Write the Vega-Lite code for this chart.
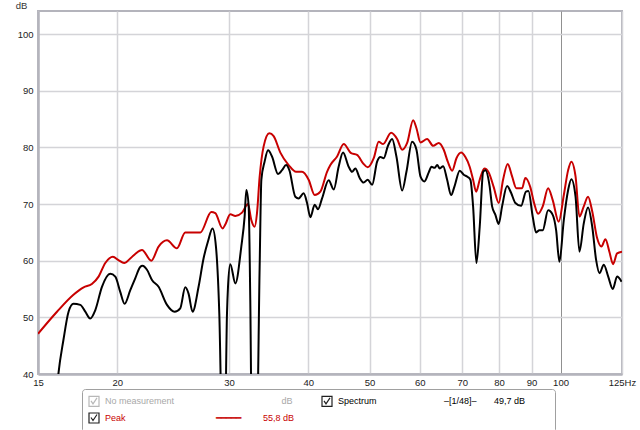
{
  "$schema": "https://vega.github.io/schema/vega-lite/v6.json",
  "width": 584,
  "height": 363,
  "autosize": {"type": "none"},
  "padding": {"left": 38, "top": 11, "right": 18, "bottom": 56},
  "background": "#ffffff",
  "config": {
    "view": {"stroke": "#b4b4bc", "strokeWidth": 2},
    "font": "Liberation Sans",
    "axis": {"labelFont": "Liberation Sans", "labelFontSize": 9.5, "labelColor": "#222222", "ticks": false, "tickSize": 0, "domainColor": "#b4b4bc", "domainWidth": 2.5, "gridWidth": 1.5}
  },
  "data": {
    "values": [
      {"series": "Peak", "f": 15, "dB": 47.1},
      {"series": "Peak", "f": 16.07, "dB": 51.0},
      {"series": "Peak", "f": 17.06, "dB": 54.0},
      {"series": "Peak", "f": 17.7, "dB": 55.3},
      {"series": "Peak", "f": 18.24, "dB": 55.9},
      {"series": "Peak", "f": 18.69, "dB": 57.2},
      {"series": "Peak", "f": 19.15, "dB": 59.6},
      {"series": "Peak", "f": 19.69, "dB": 60.7},
      {"series": "Peak", "f": 20.09, "dB": 60.1},
      {"series": "Peak", "f": 20.51, "dB": 59.6},
      {"series": "Peak", "f": 20.97, "dB": 60.4},
      {"series": "Peak", "f": 21.35, "dB": 61.2},
      {"series": "Peak", "f": 21.88, "dB": 61.9},
      {"series": "Peak", "f": 22.63, "dB": 60.0},
      {"series": "Peak", "f": 23.24, "dB": 62.5},
      {"series": "Peak", "f": 23.96, "dB": 63.6},
      {"series": "Peak", "f": 24.84, "dB": 62.2},
      {"series": "Peak", "f": 25.6, "dB": 65.0},
      {"series": "Peak", "f": 27.04, "dB": 65.0},
      {"series": "Peak", "f": 28.14, "dB": 68.6},
      {"series": "Peak", "f": 28.55, "dB": 68.4},
      {"series": "Peak", "f": 29.32, "dB": 65.7},
      {"series": "Peak", "f": 29.61, "dB": 66.4},
      {"series": "Peak", "f": 30.15, "dB": 68.2},
      {"series": "Peak", "f": 30.71, "dB": 67.9},
      {"series": "Peak", "f": 31.46, "dB": 68.5},
      {"series": "Peak", "f": 32.15, "dB": 70.0},
      {"series": "Peak", "f": 32.54, "dB": 67.2},
      {"series": "Peak", "f": 32.93, "dB": 66.0},
      {"series": "Peak", "f": 33.22, "dB": 68.4},
      {"series": "Peak", "f": 33.54, "dB": 74.8},
      {"series": "Peak", "f": 34.03, "dB": 80.2},
      {"series": "Peak", "f": 34.74, "dB": 82.5},
      {"series": "Peak", "f": 35.29, "dB": 82.0},
      {"series": "Peak", "f": 36.16, "dB": 79.1},
      {"series": "Peak", "f": 37.26, "dB": 76.9},
      {"series": "Peak", "f": 38.28, "dB": 75.7},
      {"series": "Peak", "f": 39.12, "dB": 75.7},
      {"series": "Peak", "f": 40.07, "dB": 74.3},
      {"series": "Peak", "f": 40.96, "dB": 71.6},
      {"series": "Peak", "f": 41.81, "dB": 72.2},
      {"series": "Peak", "f": 42.84, "dB": 75.7},
      {"series": "Peak", "f": 43.36, "dB": 76.9},
      {"series": "Peak", "f": 44.43, "dB": 78.4},
      {"series": "Peak", "f": 45.51, "dB": 80.6},
      {"series": "Peak", "f": 46.75, "dB": 79.0},
      {"series": "Peak", "f": 47.77, "dB": 78.7},
      {"series": "Peak", "f": 48.83, "dB": 77.2},
      {"series": "Peak", "f": 49.65, "dB": 76.5},
      {"series": "Peak", "f": 50.75, "dB": 78.1},
      {"series": "Peak", "f": 51.68, "dB": 81.0},
      {"series": "Peak", "f": 52.51, "dB": 80.6},
      {"series": "Peak", "f": 54.06, "dB": 82.6},
      {"series": "Peak", "f": 55.25, "dB": 81.5},
      {"series": "Peak", "f": 56.27, "dB": 79.6},
      {"series": "Peak", "f": 57.3, "dB": 80.8},
      {"series": "Peak", "f": 58.56, "dB": 84.8},
      {"series": "Peak", "f": 59.27, "dB": 83.4},
      {"series": "Peak", "f": 60.13, "dB": 80.9},
      {"series": "Peak", "f": 61.61, "dB": 81.5},
      {"series": "Peak", "f": 62.97, "dB": 80.3},
      {"series": "Peak", "f": 64.27, "dB": 80.8},
      {"series": "Peak", "f": 65.44, "dB": 79.6},
      {"series": "Peak", "f": 66.4, "dB": 77.5},
      {"series": "Peak", "f": 67.47, "dB": 75.9},
      {"series": "Peak", "f": 68.53, "dB": 78.1},
      {"series": "Peak", "f": 69.71, "dB": 79.1},
      {"series": "Peak", "f": 70.79, "dB": 78.3},
      {"series": "Peak", "f": 71.9, "dB": 76.6},
      {"series": "Peak", "f": 72.8, "dB": 74.3},
      {"series": "Peak", "f": 73.6, "dB": 72.2},
      {"series": "Peak", "f": 74.57, "dB": 74.3},
      {"series": "Peak", "f": 75.85, "dB": 76.3},
      {"series": "Peak", "f": 77.04, "dB": 75.6},
      {"series": "Peak", "f": 78.46, "dB": 73.0},
      {"series": "Peak", "f": 79.89, "dB": 70.2},
      {"series": "Peak", "f": 81.17, "dB": 74.3},
      {"series": "Peak", "f": 82.54, "dB": 77.1},
      {"series": "Peak", "f": 83.87, "dB": 74.9},
      {"series": "Peak", "f": 85.19, "dB": 72.8},
      {"series": "Peak", "f": 86.97, "dB": 72.8},
      {"series": "Peak", "f": 88.0, "dB": 74.6},
      {"series": "Peak", "f": 89.6, "dB": 73.0},
      {"series": "Peak", "f": 90.8, "dB": 70.3},
      {"series": "Peak", "f": 92.19, "dB": 68.3},
      {"series": "Peak", "f": 93.74, "dB": 69.6},
      {"series": "Peak", "f": 95.59, "dB": 72.8},
      {"series": "Peak", "f": 97.2, "dB": 70.7},
      {"series": "Peak", "f": 99.34, "dB": 66.9},
      {"series": "Peak", "f": 101.2, "dB": 71.6},
      {"series": "Peak", "f": 102.8, "dB": 76.0},
      {"series": "Peak", "f": 104.0, "dB": 77.5},
      {"series": "Peak", "f": 105.6, "dB": 74.9},
      {"series": "Peak", "f": 107.1, "dB": 67.8},
      {"series": "Peak", "f": 108.8, "dB": 69.6},
      {"series": "Peak", "f": 110.5, "dB": 71.3},
      {"series": "Peak", "f": 112.2, "dB": 68.7},
      {"series": "Peak", "f": 114.2, "dB": 64.0},
      {"series": "Peak", "f": 116.0, "dB": 62.5},
      {"series": "Peak", "f": 117.7, "dB": 63.8},
      {"series": "Peak", "f": 119.4, "dB": 61.6},
      {"series": "Peak", "f": 121.0, "dB": 59.4},
      {"series": "Peak", "f": 122.8, "dB": 61.3},
      {"series": "Peak", "f": 125, "dB": 61.6},
      {"series": "Spectrum", "f": 16.0, "dB": 35},
      {"series": "Spectrum", "f": 16.16, "dB": 40.2},
      {"series": "Spectrum", "f": 16.45, "dB": 46.0},
      {"series": "Spectrum", "f": 16.76, "dB": 51.0},
      {"series": "Spectrum", "f": 17.06, "dB": 52.4},
      {"series": "Spectrum", "f": 17.49, "dB": 52.2},
      {"series": "Spectrum", "f": 17.81, "dB": 51.0},
      {"series": "Spectrum", "f": 18.13, "dB": 49.8},
      {"series": "Spectrum", "f": 18.47, "dB": 51.3},
      {"series": "Spectrum", "f": 18.92, "dB": 55.4},
      {"series": "Spectrum", "f": 19.5, "dB": 57.7},
      {"series": "Spectrum", "f": 19.86, "dB": 57.2},
      {"series": "Spectrum", "f": 20.22, "dB": 54.5},
      {"series": "Spectrum", "f": 20.54, "dB": 52.4},
      {"series": "Spectrum", "f": 20.97, "dB": 54.8},
      {"series": "Spectrum", "f": 21.35, "dB": 56.9},
      {"series": "Spectrum", "f": 21.74, "dB": 58.9},
      {"series": "Spectrum", "f": 21.92, "dB": 59.1},
      {"series": "Spectrum", "f": 22.28, "dB": 58.4},
      {"series": "Spectrum", "f": 22.69, "dB": 56.6},
      {"series": "Spectrum", "f": 23.24, "dB": 55.4},
      {"series": "Spectrum", "f": 23.96, "dB": 52.2},
      {"series": "Spectrum", "f": 24.63, "dB": 51.0},
      {"series": "Spectrum", "f": 25.14, "dB": 51.6},
      {"series": "Spectrum", "f": 25.6, "dB": 55.3},
      {"series": "Spectrum", "f": 25.91, "dB": 54.2},
      {"series": "Spectrum", "f": 26.29, "dB": 51.0},
      {"series": "Spectrum", "f": 26.87, "dB": 55.4},
      {"series": "Spectrum", "f": 27.36, "dB": 60.4},
      {"series": "Spectrum", "f": 27.8, "dB": 63.4},
      {"series": "Spectrum", "f": 28.27, "dB": 65.7},
      {"series": "Spectrum", "f": 28.62, "dB": 62.5},
      {"series": "Spectrum", "f": 28.97, "dB": 50.7},
      {"series": "Spectrum", "f": 29.3, "dB": 28},
      {"series": "Spectrum", "f": 29.55, "dB": 28},
      {"series": "Spectrum", "f": 29.79, "dB": 50.7},
      {"series": "Spectrum", "f": 29.9, "dB": 55.4},
      {"series": "Spectrum", "f": 30.15, "dB": 59.4},
      {"series": "Spectrum", "f": 30.71, "dB": 56.0},
      {"series": "Spectrum", "f": 31.38, "dB": 62.5},
      {"series": "Spectrum", "f": 31.76, "dB": 67.8},
      {"series": "Spectrum", "f": 31.96, "dB": 72.5},
      {"series": "Spectrum", "f": 32.23, "dB": 69.6},
      {"series": "Spectrum", "f": 32.42, "dB": 53.0},
      {"series": "Spectrum", "f": 32.6, "dB": 30},
      {"series": "Spectrum", "f": 33.2, "dB": 30},
      {"series": "Spectrum", "f": 33.54, "dB": 58.9},
      {"series": "Spectrum", "f": 33.75, "dB": 74.3},
      {"series": "Spectrum", "f": 34.15, "dB": 77.5},
      {"series": "Spectrum", "f": 34.58, "dB": 79.5},
      {"series": "Spectrum", "f": 35.08, "dB": 78.4},
      {"series": "Spectrum", "f": 35.86, "dB": 75.3},
      {"series": "Spectrum", "f": 36.38, "dB": 76.0},
      {"series": "Spectrum", "f": 36.92, "dB": 76.9},
      {"series": "Spectrum", "f": 37.36, "dB": 76.0},
      {"series": "Spectrum", "f": 38.18, "dB": 71.3},
      {"series": "Spectrum", "f": 38.64, "dB": 71.0},
      {"series": "Spectrum", "f": 39.35, "dB": 71.9},
      {"series": "Spectrum", "f": 39.84, "dB": 70.2},
      {"series": "Spectrum", "f": 40.32, "dB": 67.7},
      {"series": "Spectrum", "f": 40.96, "dB": 69.9},
      {"series": "Spectrum", "f": 41.46, "dB": 69.1},
      {"series": "Spectrum", "f": 42.07, "dB": 71.0},
      {"series": "Spectrum", "f": 43.09, "dB": 74.2},
      {"series": "Spectrum", "f": 43.9, "dB": 72.6},
      {"series": "Spectrum", "f": 44.68, "dB": 76.6},
      {"series": "Spectrum", "f": 45.4, "dB": 79.1},
      {"series": "Spectrum", "f": 46.34, "dB": 76.6},
      {"series": "Spectrum", "f": 46.91, "dB": 75.7},
      {"series": "Spectrum", "f": 47.48, "dB": 76.3},
      {"series": "Spectrum", "f": 48.23, "dB": 74.6},
      {"series": "Spectrum", "f": 48.93, "dB": 73.8},
      {"series": "Spectrum", "f": 49.65, "dB": 74.3},
      {"series": "Spectrum", "f": 50.46, "dB": 73.4},
      {"series": "Spectrum", "f": 51.38, "dB": 77.5},
      {"series": "Spectrum", "f": 52.0, "dB": 78.3},
      {"series": "Spectrum", "f": 52.63, "dB": 78.1},
      {"series": "Spectrum", "f": 53.4, "dB": 80.2},
      {"series": "Spectrum", "f": 54.26, "dB": 81.5},
      {"series": "Spectrum", "f": 55.11, "dB": 78.4},
      {"series": "Spectrum", "f": 56.27, "dB": 72.4},
      {"series": "Spectrum", "f": 57.15, "dB": 75.7},
      {"series": "Spectrum", "f": 58.34, "dB": 81.0},
      {"series": "Spectrum", "f": 59.27, "dB": 79.6},
      {"series": "Spectrum", "f": 60.13, "dB": 74.9},
      {"series": "Spectrum", "f": 61.01, "dB": 74.0},
      {"series": "Spectrum", "f": 61.97, "dB": 75.6},
      {"series": "Spectrum", "f": 62.6, "dB": 76.6},
      {"series": "Spectrum", "f": 63.3, "dB": 76.4},
      {"series": "Spectrum", "f": 63.9, "dB": 76.9},
      {"series": "Spectrum", "f": 64.5, "dB": 76.3},
      {"series": "Spectrum", "f": 65.3, "dB": 76.7},
      {"series": "Spectrum", "f": 66.25, "dB": 74.3},
      {"series": "Spectrum", "f": 67.22, "dB": 71.6},
      {"series": "Spectrum", "f": 68.03, "dB": 73.1},
      {"series": "Spectrum", "f": 69.36, "dB": 75.9},
      {"series": "Spectrum", "f": 70.36, "dB": 75.2},
      {"series": "Spectrum", "f": 71.39, "dB": 74.8},
      {"series": "Spectrum", "f": 72.09, "dB": 74.3},
      {"series": "Spectrum", "f": 72.8, "dB": 69.6},
      {"series": "Spectrum", "f": 73.68, "dB": 59.6},
      {"series": "Spectrum", "f": 74.57, "dB": 66.0},
      {"series": "Spectrum", "f": 75.5, "dB": 75.7},
      {"series": "Spectrum", "f": 76.13, "dB": 76.0},
      {"series": "Spectrum", "f": 77.32, "dB": 73.1},
      {"series": "Spectrum", "f": 78.0, "dB": 69.6},
      {"series": "Spectrum", "f": 78.94, "dB": 68.1},
      {"series": "Spectrum", "f": 79.89, "dB": 66.5},
      {"series": "Spectrum", "f": 80.88, "dB": 69.6},
      {"series": "Spectrum", "f": 82.36, "dB": 73.2},
      {"series": "Spectrum", "f": 83.56, "dB": 72.0},
      {"series": "Spectrum", "f": 84.88, "dB": 70.2},
      {"series": "Spectrum", "f": 86.66, "dB": 69.7},
      {"series": "Spectrum", "f": 88.2, "dB": 72.2},
      {"series": "Spectrum", "f": 89.0, "dB": 72.3},
      {"series": "Spectrum", "f": 90.39, "dB": 67.8},
      {"series": "Spectrum", "f": 91.51, "dB": 65.0},
      {"series": "Spectrum", "f": 92.62, "dB": 65.4},
      {"series": "Spectrum", "f": 93.74, "dB": 65.4},
      {"series": "Spectrum", "f": 95.59, "dB": 68.9},
      {"series": "Spectrum", "f": 97.2, "dB": 68.1},
      {"series": "Spectrum", "f": 98.41, "dB": 65.4},
      {"series": "Spectrum", "f": 99.59, "dB": 59.8},
      {"series": "Spectrum", "f": 101.2, "dB": 67.2},
      {"series": "Spectrum", "f": 102.8, "dB": 72.5},
      {"series": "Spectrum", "f": 104.0, "dB": 74.4},
      {"series": "Spectrum", "f": 105.6, "dB": 71.3},
      {"series": "Spectrum", "f": 107.1, "dB": 61.6},
      {"series": "Spectrum", "f": 108.8, "dB": 66.6},
      {"series": "Spectrum", "f": 110.5, "dB": 69.4},
      {"series": "Spectrum", "f": 112.2, "dB": 66.0},
      {"series": "Spectrum", "f": 113.8, "dB": 60.1},
      {"series": "Spectrum", "f": 115.2, "dB": 57.8},
      {"series": "Spectrum", "f": 117.0, "dB": 59.3},
      {"series": "Spectrum", "f": 118.9, "dB": 57.2},
      {"series": "Spectrum", "f": 120.9, "dB": 55.0},
      {"series": "Spectrum", "f": 122.8, "dB": 57.2},
      {"series": "Spectrum", "f": 124.8, "dB": 56.3}
    ]
  },
  "encoding": {
    "x": {
      "field": "f", "type": "quantitative",
      "scale": {"type": "log", "domain": [15, 125], "nice": false},
      "axis": {
        "title": null,
        "values": [15, 20, 30, 40, 50, 60, 70, 80, 90, 100, 125],
        "format": "d",
        "labelExpr": "datum.value == 125 ? '125Hz' : datum.label",
        "labelFlush": false,
        "labelOverlap": false,
        "labelPadding": 3,
        "gridColor": {"condition": {"test": "datum.value == 100", "value": "#909090"}, "value": "#d4d4d8"},
        "gridWidth": {"condition": {"test": "datum.value == 100", "value": 1}, "value": 1.5}
      }
    },
    "y": {
      "field": "dB", "type": "quantitative",
      "scale": {"domain": [40, 104.1], "nice": false, "zero": false},
      "axis": {
        "values": [40, 50, 60, 70, 80, 90, 100],
        "title": "dB",
        "titleAngle": 0,
        "titleX": -17,
        "titleY": -6,
        "titleAlign": "center",
        "titleBaseline": "middle",
        "titleFont": "Liberation Sans",
        "titleFontSize": 9.5,
        "titleFontWeight": "normal",
        "titleColor": "#333333",
        "labelPadding": 5,
        "gridColor": "#d4d4d8"
      }
    }
  },
  "layer": [
    {
      "mark": {"type": "point", "opacity": 0, "clip": true},
      "encoding": {
        "color": {
          "field": "series", "type": "nominal",
          "scale": {"domain": ["No measurement", "Peak", "Spectrum"], "range": ["#b8b8b8", "#202020", "#202020"]},
          "legend": {
            "orient": "none",
            "legendX": 44,
            "legendY": 378,
            "columns": 2,
            "title": null,
            "symbolType": "M-1,-1L1,-1L1,1L-1,1Z M-0.6,-0.1L-0.2,0.5L0.6,-0.7",
            "symbolSize": 100,
            "symbolStrokeWidth": 1.2,
            "symbolOpacity": 1,
            "symbolFillColor": "#e8e8e8",
            "labelFont": "Liberation Sans",
            "labelFontSize": 9,
            "labelLimit": 400,
            "labelOffset": 5,
            "labelColor": {"expr": "datum.value == 'Peak' ? '#c80000' : datum.value == 'No measurement' ? '#a8a8a8' : '#000000'"},
            "columnPadding": 24,
            "rowPadding": 1,
            "padding": 6,
            "strokeColor": "#a0a0a0",
            "fillColor": "#ffffff",
            "cornerRadius": 3,
            "labelExpr": "datum.value == 'No measurement' ? 'No measurement' + pad('', 43, '\u00a0') + 'dB' : datum.value == 'Spectrum' ? 'Spectrum' + pad('', 27, '\u00a0') + '–[1/48]–' + pad('', 7, '\u00a0') + '49,7 dB' + '\u00a0' + pad('', 3, '\u2800') : 'Peak' + pad('', 36, '\u00a0') + '━━━━━' + pad('', 9, '\u00a0') + '55,8 dB'"
          }
        }
      }
    },
    {
      "mark": {"type": "line", "interpolate": "monotone", "strokeWidth": 2, "clip": true},
      "encoding": {
        "stroke": {
          "field": "series", "type": "nominal",
          "scale": {"domain": ["No measurement", "Peak", "Spectrum"], "range": ["#b4b4b4", "#c80000", "#000000"]},
          "legend": null
        }
      }
    }
  ]
}
